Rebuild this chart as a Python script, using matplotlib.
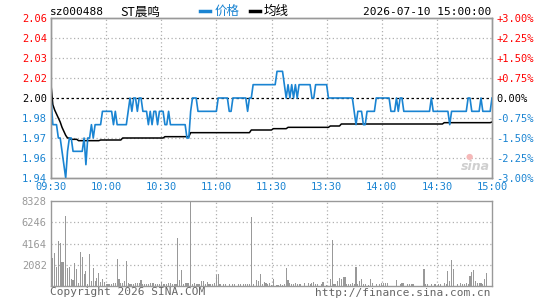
import numpy as np
import matplotlib
matplotlib.use('Agg')
import matplotlib.pyplot as plt

# minute-by-minute data, 09:30-11:30 then 13:01-15:00 (241 points)
price = [
    2.00, 1.98, 1.98, 1.98, 1.97, 1.97, 1.96, 1.95, 1.94, 1.96,
    1.97, 1.97, 1.96, 1.96, 1.96, 1.96, 1.96, 1.96, 1.97, 1.95,
    1.97, 1.97, 1.98, 1.97, 1.98, 1.98, 1.98, 1.98, 1.99, 1.99,
    1.99, 1.99, 1.99, 1.99, 1.98, 1.99, 1.98, 1.98, 1.98, 1.98,
    1.98, 1.98, 1.99, 2.00, 1.99, 2.00, 2.00, 1.99, 2.00, 2.00,
    1.99, 1.99, 1.99, 1.98, 1.99, 1.98, 1.99, 1.99, 1.98, 1.99,
    1.99, 1.99, 1.98, 1.98, 1.99, 1.98, 1.98, 1.98, 1.98, 1.98,
    1.98, 1.98, 1.98, 1.98, 1.97, 1.97, 1.99, 2.00, 2.00, 2.00,
    1.99, 1.99, 1.99, 1.99, 1.99, 1.99, 1.99, 1.99, 1.99, 1.99,
    1.99, 2.00, 2.00, 2.00, 2.00, 2.00, 2.00, 1.99, 1.99, 2.00,
    2.00, 2.00, 2.00, 2.00, 2.00, 2.00, 2.00, 1.99, 2.00, 2.00,
    2.01, 2.01, 2.01, 2.01, 2.01, 2.01, 2.01, 2.01, 2.01, 2.01,
    2.01, 2.01, 2.01, 2.02, 2.02, 2.02, 2.02, 2.01, 2.00, 2.01,
    2.00, 2.01, 2.00, 2.01, 2.00, 2.01, 2.01, 2.01, 2.01, 2.01,
    2.01, 2.01, 2.00, 2.00, 2.01, 2.01, 2.01, 2.01, 2.01, 2.01,
    2.01, 2.00, 2.00, 2.00, 2.00, 2.00, 2.00, 2.00, 2.00, 2.00,
    2.00, 2.00, 2.00, 2.00, 2.00, 1.99, 1.98, 1.99, 1.99, 1.99,
    1.98, 1.98, 1.99, 1.99, 1.99, 1.99, 1.99, 2.00, 2.00, 2.00,
    2.00, 2.00, 2.00, 2.00, 2.00, 1.99, 1.99, 1.99, 2.00, 1.99,
    2.00, 2.00, 1.99, 1.99, 1.99, 1.99, 1.99, 1.99, 1.99, 1.99,
    1.99, 1.99, 1.99, 1.99, 1.99, 1.99, 1.99, 2.00, 1.99, 1.99,
    1.99, 1.99, 1.99, 1.99, 1.99, 1.99, 1.99, 1.98, 1.99, 1.99,
    1.99, 1.99, 1.99, 1.99, 1.99, 1.99, 1.99, 2.00, 2.00, 1.99,
    1.99, 1.99, 1.99, 1.99, 2.00, 1.99, 1.99, 1.99, 1.99, 1.99,
    2.00,
]

avg_price = [
    2.010, 1.995, 1.991, 1.988, 1.985, 1.982, 1.978, 1.975, 1.972, 1.970,
    1.970, 1.969, 1.969, 1.969, 1.969, 1.968, 1.968, 1.968, 1.968, 1.968,
    1.968, 1.968, 1.968, 1.968, 1.968, 1.968, 1.968, 1.9685, 1.9685, 1.9685,
    1.9685, 1.9685, 1.9685, 1.9685, 1.9685, 1.9685, 1.9685, 1.9685, 1.9685, 1.970,
    1.970, 1.970, 1.970, 1.970, 1.970, 1.970, 1.970, 1.970, 1.970, 1.970,
    1.970, 1.970, 1.970, 1.970, 1.970, 1.970, 1.970, 1.970, 1.970, 1.970,
    1.970, 1.970, 1.971, 1.971, 1.971, 1.971, 1.971, 1.971, 1.971, 1.971,
    1.971, 1.971, 1.971, 1.971, 1.971, 1.971, 1.974, 1.974, 1.974, 1.974,
    1.974, 1.974, 1.974, 1.974, 1.974, 1.974, 1.974, 1.974, 1.974, 1.974,
    1.974, 1.974, 1.974, 1.974, 1.974, 1.974, 1.974, 1.974, 1.974, 1.974,
    1.974, 1.974, 1.974, 1.974, 1.974, 1.974, 1.974, 1.974, 1.974, 1.976,
    1.976, 1.976, 1.976, 1.976, 1.976, 1.976, 1.976, 1.976, 1.976, 1.976,
    1.976, 1.977, 1.977, 1.977, 1.977, 1.977, 1.977, 1.977, 1.977, 1.978,
    1.978, 1.978, 1.978, 1.978, 1.978, 1.978, 1.978, 1.978, 1.978, 1.978,
    1.978, 1.978, 1.978, 1.978, 1.978, 1.978, 1.978, 1.978, 1.978, 1.978,
    1.978, 1.978, 1.979, 1.979, 1.979, 1.979, 1.979, 1.979, 1.9805, 1.9805,
    1.9805, 1.9805, 1.9805, 1.9805, 1.9805, 1.9805, 1.9805, 1.9805, 1.9805, 1.9805,
    1.9805, 1.9805, 1.9805, 1.9805, 1.9805, 1.9805, 1.9805, 1.9805, 1.9805, 1.9805,
    1.9805, 1.9805, 1.9805, 1.9805, 1.9805, 1.9805, 1.9805, 1.9805, 1.9805, 1.9805,
    1.9805, 1.9805, 1.9805, 1.9805, 1.9805, 1.9805, 1.9805, 1.9805, 1.9805, 1.9805,
    1.9805, 1.9805, 1.9805, 1.9805, 1.9805, 1.9805, 1.9805, 1.9805, 1.9805, 1.9805,
    1.9805, 1.9805, 1.9805, 1.9805, 1.9815, 1.9815, 1.9815, 1.9815, 1.9815, 1.9815,
    1.9815, 1.9815, 1.9815, 1.9815, 1.9815, 1.9815, 1.9815, 1.9815, 1.9815, 1.9815,
    1.9815, 1.9815, 1.9815, 1.9815, 1.9815, 1.9815, 1.9815, 1.9815, 1.9815, 1.9815,
    1.982,
]

volume = [
    300, 2740, 3230, 1860, 4440, 4210, 2350, 2350, 6860, 1760,
    1850, 690, 600, 2250, 1700, 300, 3330, 2840, 1175, 1470,
    200, 3135, 500, 1760, 500, 800, 1270, 350, 700, 400,
    150, 150, 200, 200, 250, 250, 2645, 650, 250, 250,
    500, 2450, 250, 150, 150, 150, 250, 250, 250, 600,
    200, 150, 200, 150, 300, 300, 300, 150, 150, 200,
    350, 200, 200, 150, 300, 300, 150, 150, 150, 4700,
    600, 1600, 150, 300, 300, 300, 8328, 150, 300, 200,
    200, 200, 500, 500, 150, 350, 150, 150, 150, 300,
    1050, 1150, 150, 0, 150, 150, 0, 150, 0, 150,
    150, 0, 150, 150, 0, 200, 150, 150, 200, 6760,
    150, 0, 600, 500, 1150, 200, 350, 250, 150, 250,
    100, 700, 0, 100, 100, 200, 100, 150, 1760, 600,
    250, 150, 150, 250, 200, 150, 150, 0, 300, 0,
    250, 150, 300, 350, 150, 150, 0, 150, 400, 0,
    100, 0, 690, 4475, 150, 150, 450, 800, 700, 900,
    900, 200, 200, 200, 300, 150, 1860, 200, 500, 700,
    150, 200, 0, 100, 650, 250, 0, 150, 0, 150,
    300, 300, 250, 250, 0, 0, 0, 0, 600, 0,
    150, 250, 250, 0, 200, 200, 200, 200, 0, 0,
    0, 0, 0, 1670, 150, 150, 0, 150, 0, 150,
    0, 200, 200, 0, 250, 150, 1470, 450, 2550, 1670,
    0, 150, 0, 300, 150, 150, 300, 150, 980, 1370,
    1570, 500, 300, 250, 300, 200, 720, 1275, 0, 0,
    0,
]

prev_close = 2.00
price_ticks = [1.94, 1.955, 1.97, 1.985, 2.00, 2.015, 2.03, 2.045, 2.06]
price_labels = ['1.94', '1.96', '1.97', '1.98', '2.00', '2.02', '2.03', '2.04', '2.06']
pct_labels = ['-3.00%', '-2.25%', '-1.50%', '-0.75%', '0.00%',
              '+0.75%', '+1.50%', '+2.25%', '+3.00%']
time_ticks = [0, 30, 60, 90, 120, 150, 180, 210, 240]
time_labels = ['09:30', '10:00', '10:30', '11:00', '11:30',
               '13:30', '14:00', '14:30', '15:00']
vol_ticks = [2082, 4164, 6246, 8328]

BLUE = '#1a84d2'
RED = '#ff0000'
GRAY = '#999999'
GRID = '#b0b0b0'
MONO = 'DejaVu Sans Mono'
CJK = ['Noto Sans CJK SC', 'DejaVu Sans']
FS = 7

W, H = 545, 300
fig = plt.figure(figsize=(W / 100, H / 100), dpi=100)
fig.patch.set_facecolor('white')


def box(left, top, right, bottom):
    return [left / W, 1 - bottom / H, (right - left) / W, (bottom - top) / H]


ax = fig.add_axes(box(51, 18, 492, 178))
axv = fig.add_axes(box(51, 201, 492, 286))

x = np.arange(len(price))

# price panel
ax.set_xlim(0, 240)
ax.set_ylim(price_ticks[0], price_ticks[-1])
for t in price_ticks[1:-1]:
    if t == prev_close:
        continue
    ax.axhline(t, color=GRID, lw=0.9, ls=(0, (1, 2)), zorder=1)
for t in time_ticks[1:-1]:
    ax.axvline(t, color=GRID, lw=0.9, ls=(0, (1, 2)), zorder=1)
ax.axhline(prev_close, color='black', lw=0.9, ls=(0, (2, 2)), zorder=2)
ax.plot(x, avg_price, color='black', lw=1.1, zorder=3)
ax.plot(x, price, color=BLUE, lw=1.2, zorder=4)

ax.set_yticks(price_ticks)
ax.set_yticklabels(price_labels, fontfamily=MONO, fontsize=FS + 0.5)
for lab, t in zip(ax.get_yticklabels(), price_ticks):
    lab.set_color(RED if t > prev_close else ('black' if t == prev_close else BLUE))
ax.tick_params(axis='y', length=0, pad=3)

ax.set_xticks(time_ticks)
ax.set_xticklabels(time_labels, fontfamily=MONO, fontsize=FS + 0.5, color=BLUE)
ax.tick_params(axis='x', length=0, pad=3)

axr = ax.twinx()
axr.set_ylim(price_ticks[0], price_ticks[-1])
axr.set_yticks(price_ticks)
axr.set_yticklabels(pct_labels, fontfamily=MONO, fontsize=FS + 0.5)
for lab, t in zip(axr.get_yticklabels(), price_ticks):
    lab.set_color(RED if t > prev_close else ('black' if t == prev_close else BLUE))
axr.tick_params(axis='y', length=0, pad=3)

for a in (ax, axr, axv):
    for s in a.spines.values():
        s.set_color(GRAY)
        s.set_linewidth(1.0)

# volume panel
axv.set_xlim(0, 240)
axv.set_ylim(0, vol_ticks[-1])
for t in vol_ticks[:-1]:
    axv.axhline(t, color=GRID, lw=0.9, ls=(0, (1, 2)), zorder=1)
for t in time_ticks[1:-1]:
    axv.axvline(t, color=GRID, lw=0.9, ls=(0, (1, 2)), zorder=1)
axv.bar(x, volume, width=0.6, color=GRAY, linewidth=0, zorder=2)
axv.set_xticks([])
axv.set_yticks(vol_ticks)
axv.set_yticklabels([str(v) for v in vol_ticks], fontfamily=MONO, fontsize=FS + 0.5, color=GRAY)
axv.tick_params(axis='y', length=0, pad=3)


def ftext(px, py, s, **kw):
    fig.text(px / W, 1 - py / H, s, va='center', **kw)


# header
ftext(50, 12, 'sz000488', fontfamily=MONO, fontsize=FS + 1, color='black')
ftext(120, 12, 'ST晨鸣', family=CJK, fontsize=9, color='black')
fig.add_artist(plt.Line2D([200 / W, 210 / W], [1 - 11 / H] * 2, color=BLUE, lw=2.5))
ftext(215, 11, '价格', family=CJK, fontsize=9, color=BLUE)
fig.add_artist(plt.Line2D([250 / W, 260 / W], [1 - 11 / H] * 2, color='black', lw=2.5))
ftext(264, 11, '均线', family=CJK, fontsize=9, color='black')
ftext(491, 12, '2026-07-10 15:00:00', fontfamily=MONO, fontsize=FS + 1,
      color='black', ha='right')

# footer
ftext(50, 292, 'Copyright 2026 SINA.COM', fontfamily=MONO, fontsize=FS + 1, color='#666666')
ftext(491, 293, 'http://finance.sina.com.cn', fontfamily=MONO, fontsize=FS + 1,
      color='#666666', ha='right')

# watermark
ftext(461, 166, 'sina', fontfamily='DejaVu Sans', fontsize=9, style='italic',
      weight='bold', color='#cfcfcf')
ftext(466, 156, '●', fontfamily='DejaVu Sans', fontsize=6, color='#f5b8b8')

fig.savefig('out.png', dpi=100)
